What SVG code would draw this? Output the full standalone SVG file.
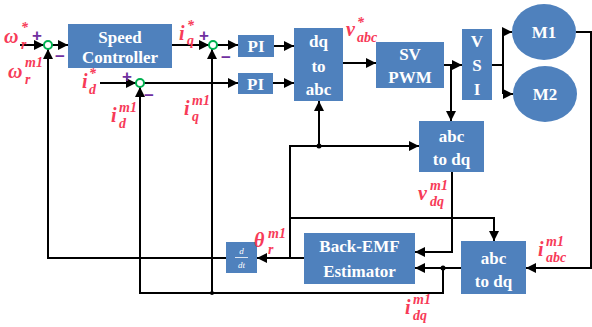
<svg xmlns="http://www.w3.org/2000/svg" width="592" height="327" viewBox="0 0 592 327">
<defs>
<marker id="ar" viewBox="0 0 10 10" refX="10" refY="5" markerWidth="5" markerHeight="5" orient="auto-start-reverse">
<path d="M0,0 L10,5 L0,10 z" fill="#000"/>
</marker>
<style>
.box{fill:#4F81BD}
.bt{fill:#fff;font-family:"Liberation Serif",serif;font-weight:bold;font-size:17px;text-anchor:middle}
.ln{fill:none;stroke:#000;stroke-width:2}
.la{fill:none;stroke:#000;stroke-width:2;marker-end:url(#ar)}
.sum{fill:#fff;stroke:#00B050;stroke-width:2}
.pm{fill:#7030A0;font-family:"Liberation Sans",sans-serif;font-weight:bold;font-size:17px}
.lab{fill:#F73B58;font-family:"Liberation Serif",serif;font-style:italic;font-weight:bold;font-size:20px}
.s{font-size:14px}
</style>
</defs>
<g id="connectors">
<path class="la" d="M20,45 H44"/>
<path class="la" d="M52,45 H68"/>
<path class="la" d="M172,45 H209"/>
<path class="la" d="M217,45 H238"/>
<path class="la" d="M100,83 H136"/>
<path class="la" d="M144,83 H238"/>
<path class="la" d="M274,46 H294"/>
<path class="la" d="M273,83 H294"/>
<path class="la" d="M343,63 H376"/>
<path class="la" d="M444,65 H462"/>
<path class="la" d="M451,65 V121"/>
<path class="ln" d="M492,65 H503 M503,32 V94"/>
<path class="la" d="M503,32 H512"/>
<path class="la" d="M503,94 H513"/>
<path class="la" d="M576,32 H591 V268 H526"/>
<path class="la" d="M461,268 H415"/>
<path class="la" d="M443,268 V293 H140 V87"/>
<path class="la" d="M212,293 V49"/>
<path class="la" d="M452,172 V252 H415"/>
<path class="la" d="M304,258 H257"/>
<path class="la" d="M226,258 H48 V49"/>
<path class="la" d="M290,258 V146 H419"/>
<path class="la" d="M319,146 V101"/>
<path class="la" d="M290,218 H494 V241"/>
<circle cx="319" cy="146" r="2.5"/>
<circle cx="443" cy="268" r="2.5"/>
<circle cx="212" cy="293" r="2"/>
</g>
<g id="sum1"><circle class="sum" cx="48" cy="45" r="4"/><text class="pm" x="32" y="41">+</text><text class="pm" x="55" y="62">−</text></g>
<g id="sum2"><circle class="sum" cx="140" cy="83" r="4"/><text class="pm" x="122" y="82">+</text><text class="pm" x="144" y="101">−</text></g>
<g id="sum3"><circle class="sum" cx="213" cy="45" r="4"/><text class="pm" x="199" y="41">+</text><text class="pm" x="221" y="63">−</text></g>
<g id="speed"><rect class="box" x="68" y="24" width="104" height="44"/><text class="bt" x="120" y="43">Speed</text><text class="bt" x="120" y="63">Controller</text></g>
<g id="pi1"><rect class="box" x="238" y="35" width="36" height="22"/><text class="bt" x="256" y="52">PI</text></g>
<g id="pi2"><rect class="box" x="238" y="73" width="35" height="21"/><text class="bt" x="255.5" y="90">PI</text></g>
<g id="dqabc"><rect class="box" x="294" y="28" width="49" height="73"/><text class="bt" x="318.5" y="47">dq</text><text class="bt" x="318.5" y="72">to</text><text class="bt" x="318.5" y="95">abc</text></g>
<g id="svpwm"><rect class="box" x="376" y="42" width="68" height="46"/><text class="bt" x="410" y="60">SV</text><text class="bt" x="410" y="83">PWM</text></g>
<g id="vsi"><rect class="box" x="462" y="29" width="30" height="71"/><text class="bt" x="477" y="47">V</text><text class="bt" x="477" y="71">S</text><text class="bt" x="477" y="95">I</text></g>
<g id="m1"><ellipse class="box" cx="544" cy="32" rx="32" ry="28"/><text class="bt" x="544" y="38">M1</text></g>
<g id="m2"><ellipse class="box" cx="545" cy="94" rx="32" ry="28"/><text class="bt" x="545" y="100">M2</text></g>
<g id="abcdq1"><rect class="box" x="419" y="121" width="65" height="51"/><text class="bt" x="451.5" y="142">abc</text><text class="bt" x="451.5" y="165">to dq</text></g>
<g id="abcdq2"><rect class="box" x="461" y="241" width="65" height="53"/><text class="bt" x="493.5" y="264">abc</text><text class="bt" x="493.5" y="287">to dq</text></g>
<g id="bemf"><rect class="box" x="304" y="233" width="111" height="51"/><text class="bt" x="359.5" y="252">Back-EMF</text><text class="bt" x="359.5" y="277">Estimator</text></g>
<g id="ddt"><rect class="box" x="226" y="242" width="31" height="31"/><text x="241.5" y="254" fill="#fff" font-family="Liberation Serif,serif" font-style="italic" font-size="9" text-anchor="middle">d</text><line x1="235" y1="257.5" x2="248" y2="257.5" stroke="#fff" stroke-width="0.8"/><text x="241.5" y="268" fill="#fff" font-family="Liberation Serif,serif" font-style="italic" font-size="9" text-anchor="middle">dt</text></g>
<g id="labels">
<text class="lab"><tspan x="4" y="43">ω</tspan><tspan class="s" x="21" y="32">*</tspan><tspan class="s" x="21" y="49">r</tspan></text>
<text class="lab"><tspan x="8" y="78">ω</tspan><tspan class="s" x="25" y="67">m1</tspan><tspan class="s" x="25" y="84">r</tspan></text>
<text class="lab"><tspan x="179" y="40">i</tspan><tspan class="s" x="187" y="30">*</tspan><tspan class="s" x="187" y="45">q</tspan></text>
<text class="lab"><tspan x="346" y="36">v</tspan><tspan class="s" x="357" y="27">*</tspan><tspan class="s" x="357" y="42">abc</tspan></text>
<text class="lab"><tspan x="82" y="88">i</tspan><tspan class="s" x="89" y="78">*</tspan><tspan class="s" x="89" y="94">d</tspan></text>
<text class="lab"><tspan x="111" y="122">i</tspan><tspan class="s" x="119" y="112">m1</tspan><tspan class="s" x="119" y="128">d</tspan></text>
<text class="lab"><tspan x="184" y="115">i</tspan><tspan class="s" x="192" y="105">m1</tspan><tspan class="s" x="192" y="121">q</tspan></text>
<text class="lab"><tspan x="254" y="247">θ</tspan><tspan class="s" x="268" y="238">m1</tspan><tspan class="s" x="268" y="254">r</tspan></text>
<text class="lab"><tspan x="418" y="200">v</tspan><tspan class="s" x="430" y="190">m1</tspan><tspan class="s" x="430" y="206">dq</tspan></text>
<text class="lab"><tspan x="405" y="314">i</tspan><tspan class="s" x="413" y="304">m1</tspan><tspan class="s" x="413" y="320">dq</tspan></text>
<text class="lab"><tspan x="538" y="256">i</tspan><tspan class="s" x="546" y="246">m1</tspan><tspan class="s" x="546" y="262">abc</tspan></text>
</g>
</svg>
